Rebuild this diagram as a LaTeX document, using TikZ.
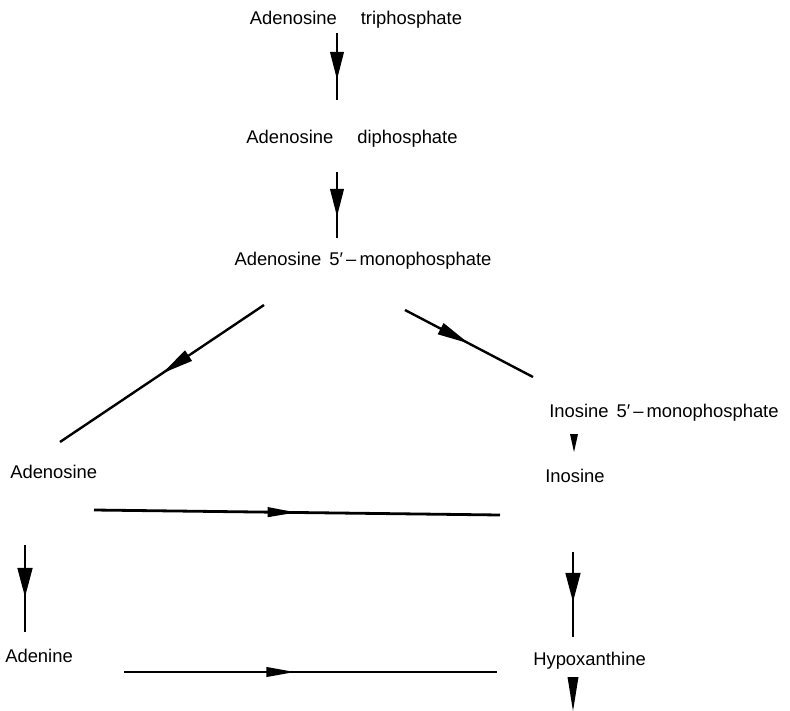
\documentclass[tikz,border=0pt]{standalone}
\usepackage{fontspec}
\setmainfont{Liberation Sans}
\usetikzlibrary{arrows.meta,decorations.markings}
\tikzstyle{chem} = [inner sep=0pt, font=\fontsize{13.8}{16}\selectfont]
\tikzstyle{flow} = [line width=2.1pt, postaction={decorate}]
\tikzstyle{tiphead} = [fill=black]
\tikzset{headat/.style args={#1/#2/#3}{decoration={markings,
    mark=at position #1 with {\arrow{Triangle[length=#2pt,width=#3pt]}}}}}

\begin{document}
\begin{tikzpicture}[x=0.75pt,y=-0.75pt]
\useasboundingbox (0,0) rectangle (790,711);
% compounds
\node[chem] (atp) at (356,20) {Adenosine\hspace{18pt}triphosphate};
\node[chem] (adp) at (352,139) {Adenosine\hspace{18pt}diphosphate};
\node[chem] (amp) at (363,261) {Adenosine\hspace{6pt}5′\,–\,monophosphate};
\node[chem, anchor=west] (imp) at (549,413) {Inosine\hspace{6pt}5′\,–\,monophosphate};
\node[chem, anchor=west] (ado) at (10,472) {Adenosine};
\node[chem, anchor=west] (ino) at (545,476) {Inosine};
\node[chem, anchor=west] (ade) at (5,656) {Adenine};
\node[chem, anchor=west] (hyp) at (533,661) {Hypoxanthine};
% line ends
\coordinate (atp-out) at (337,33);   \coordinate (adp-in) at (337,100);
\coordinate (adp-out) at (337,172);  \coordinate (amp-in) at (337,238);
\coordinate (amp-l) at (264,305);    \coordinate (ado-in) at (60,442);
\coordinate (amp-r) at (405,310);    \coordinate (imp-in) at (533,377);
\coordinate (ado-r) at (94,510);     \coordinate (ino-l) at (500,515);
\coordinate (ado-out) at (25,545);   \coordinate (ade-in) at (25,632);
\coordinate (ino-out) at (573,552);  \coordinate (hyp-in) at (573,637);
\coordinate (ade-r) at (124,672);    \coordinate (hyp-l) at (497,672);
% reactions
\draw[flow, headat=0.70/21/10] (atp-out) -- (adp-in);
\draw[flow, headat=0.68/21/10] (adp-out) -- (amp-in);
\draw[flow, line width=1.8pt, headat=0.5/24/9] (amp-l) -- (ado-in);
\draw[flow, line width=1.8pt, headat=0.5/24/9] (amp-r) -- (imp-in);
\draw[flow, headat=0.5/22/7] (ado-r) -- (ino-l);
\draw[flow, headat=0.6/22/11] (ado-out) -- (ade-in);
\draw[flow, headat=0.59/22/11] (ino-out) -- (hyp-in);
\draw[flow, headat=0.46/22/7] (ade-r) -- (hyp-l);
% loose heads
\fill[tiphead] (570,434) -- (578,434) -- (574,452) -- cycle;
\fill[tiphead] (567.5,677) -- (578.5,677) -- (573,711) -- cycle;
\end{tikzpicture}
\end{document}
